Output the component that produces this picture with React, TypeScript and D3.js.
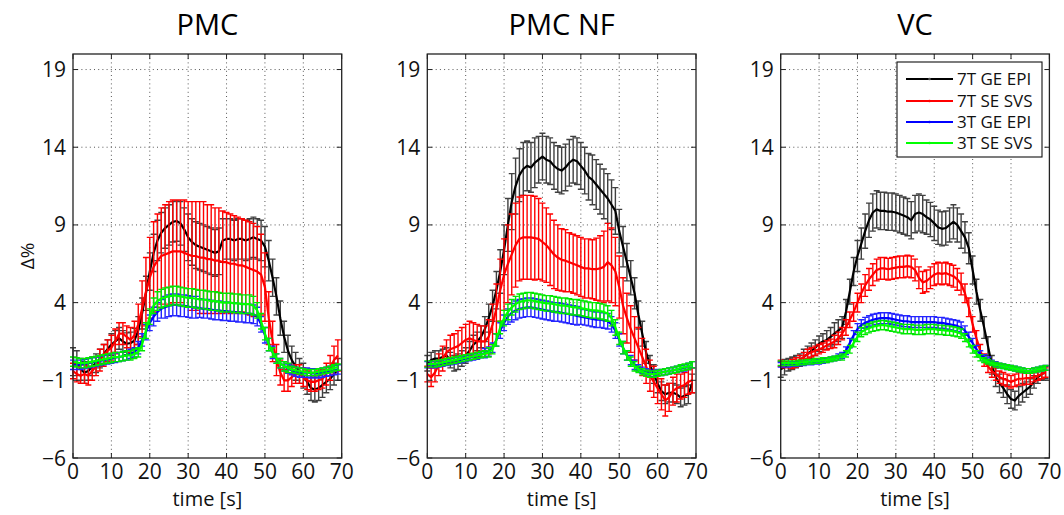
import React from 'react';
import * as d3 from 'd3';

// ---------- data ----------
const TIME = d3.range(0, 70);
const TITLES = ['PMC', 'PMC NF', 'VC'];
const SERIES_NAMES = ['7T GE EPI', '7T SE SVS', '3T GE EPI', '3T SE SVS'];
const SERIES_COLORS = ['#000000', '#ff0000', '#0000ff', '#00ff00'];
const ERR_COLORS = ['#404040', '#ff0000', '#2424ff', '#00e800'];
const DRAW_ORDER = [0, 1, 2, 3];
const Y_TICKS = [-6, -1, 4, 9, 14, 19];
const X_TICKS = [0, 10, 20, 30, 40, 50, 60, 70];

// PMC
const PMC_K = [0.2, 0.1, -0.3, -0.5, -0.4, -0.1, 0.1, 0.4, 0.7, 1.0,
  1.3, 1.5, 1.7, 1.5, 1.35, 1.4, 1.55, 2.2, 3.3, 4.6,
  6.0, 7.2, 8.0, 8.5, 8.8, 9.0, 9.2, 9.25, 9.1, 8.7,
  8.2, 7.9, 7.7, 7.6, 7.5, 7.4, 7.3, 7.2, 7.3, 8.0,
  8.1, 8.1, 8.0, 8.1, 8.1, 8.0, 8.1, 8.2, 8.1, 8.0,
  7.6, 6.7, 5.6, 4.4, 3.0, 1.8, 0.9, 0.3, -0.1, -0.4,
  -0.7, -1.1, -1.5, -1.6, -1.5, -1.3, -1.1, -0.9, -0.6, -0.3];
const PMC_R = [-0.4, -0.6, -0.7, -0.6, -0.7, -0.4, -0.1, 0.3, 0.6, 0.9,
  1.1, 1.5, 2.0, 2.0, 1.8, 1.6, 1.9, 2.6, 3.6, 4.7,
  5.6, 6.3, 6.7, 7.0, 7.1, 7.2, 7.3, 7.3, 7.3, 7.2,
  7.1, 7.0, 7.0, 6.9, 6.9, 6.8, 6.8, 6.7, 6.7, 6.6,
  6.6, 6.5, 6.5, 6.4, 6.4, 6.3, 6.2, 6.1, 6.0, 5.8,
  5.0, 3.0, 1.5, 0.3, -0.5, -1.0, -1.0, -0.8, -0.6, -0.6,
  -0.8, -1.0, -1.1, -1.1, -1.0, -0.9, -0.6, -0.2, 0.3, 0.6];
const PMC_B = [0.0, 0.0, 0.0, 0.05, 0.1, 0.15, 0.2, 0.25, 0.3, 0.35,
  0.4, 0.45, 0.5, 0.55, 0.6, 0.7, 0.8, 1.1, 1.6, 2.1,
  2.7, 3.1, 3.4, 3.6, 3.7, 3.8, 3.85, 3.85, 3.8, 3.8,
  3.75, 3.7, 3.7, 3.65, 3.6, 3.6, 3.55, 3.5, 3.5, 3.45,
  3.45, 3.4, 3.4, 3.35, 3.35, 3.3, 3.3, 3.25, 3.1, 2.6,
  1.9, 1.3, 0.8, 0.4, 0.1, -0.1, -0.25, -0.35, -0.45, -0.5,
  -0.5, -0.5, -0.55, -0.55, -0.55, -0.5, -0.45, -0.4, -0.35, -0.3];
const PMC_G = [0.2, 0.15, 0.1, 0.1, 0.15, 0.2, 0.25, 0.3, 0.35, 0.4,
  0.45, 0.5, 0.5, 0.55, 0.6, 0.6, 0.7, 0.8, 1.3, 2.2,
  3.1, 3.8, 4.1, 4.25, 4.35, 4.4, 4.45, 4.45, 4.4, 4.35,
  4.3, 4.3, 4.25, 4.2, 4.2, 4.15, 4.1, 4.1, 4.05, 4.0,
  4.0, 4.0, 3.95, 3.95, 3.9, 3.9, 3.9, 3.8, 3.5, 2.8,
  2.0, 1.3, 0.8, 0.4, 0.1, -0.1, -0.2, -0.3, -0.35, -0.4,
  -0.45, -0.5, -0.5, -0.5, -0.45, -0.4, -0.35, -0.3, -0.2, -0.15];
const PMC_EK = [0.9, 0.8, 0.7, 0.7, 0.6, 0.6, 0.6, 0.6, 0.6, 0.6,
  0.7, 0.7, 0.7, 0.7, 0.7, 0.7, 0.8, 0.9, 1.0, 1.1,
  1.2, 1.2, 1.3, 1.3, 1.3, 1.3, 1.3, 1.3, 1.4, 1.4,
  1.5, 1.5, 1.5, 1.5, 1.5, 1.5, 1.5, 1.5, 1.5, 1.4,
  1.3, 1.3, 1.3, 1.3, 1.3, 1.3, 1.3, 1.3, 1.3, 1.3,
  1.3, 1.3, 1.2, 1.2, 1.1, 1.0, 1.0, 0.9, 0.9, 0.8,
  0.8, 0.8, 0.8, 0.8, 0.8, 0.8, 0.7, 0.7, 0.7, 0.7];
const PMC_ER = [0.5, 0.5, 0.5, 0.6, 0.6, 0.6, 0.6, 0.7, 0.7, 0.7,
  0.8, 0.8, 0.7, 0.7, 0.7, 0.8, 0.9, 1.3, 1.8, 2.2,
  2.6, 2.9, 3.0, 3.1, 3.2, 3.3, 3.3, 3.3, 3.3, 3.4,
  3.4, 3.5, 3.5, 3.6, 3.6, 3.5, 3.5, 3.4, 3.4, 3.3,
  3.2, 3.2, 3.1, 3.1, 3.0, 3.0, 3.0, 3.0, 2.9, 2.6,
  2.2, 1.7, 1.3, 1.0, 0.8, 0.7, 0.7, 0.6, 0.6, 0.6,
  0.6, 0.6, 0.6, 0.6, 0.6, 0.6, 0.7, 0.8, 0.9, 1.0];
const PMC_EB = [0.3, 0.3, 0.3, 0.3, 0.3, 0.3, 0.3, 0.3, 0.3, 0.3,
  0.3, 0.3, 0.3, 0.3, 0.3, 0.3, 0.3, 0.4, 0.4, 0.5,
  0.5, 0.6, 0.6, 0.6, 0.7, 0.7, 0.7, 0.7, 0.7, 0.7,
  0.7, 0.7, 0.7, 0.6, 0.6, 0.6, 0.6, 0.6, 0.6, 0.6,
  0.6, 0.6, 0.6, 0.6, 0.6, 0.6, 0.6, 0.6, 0.6, 0.5,
  0.5, 0.4, 0.4, 0.3, 0.3, 0.3, 0.3, 0.3, 0.3, 0.3,
  0.3, 0.3, 0.3, 0.3, 0.3, 0.3, 0.3, 0.3, 0.3, 0.3];
const PMC_EG = [0.3, 0.3, 0.3, 0.3, 0.3, 0.3, 0.3, 0.3, 0.3, 0.3,
  0.3, 0.3, 0.3, 0.3, 0.3, 0.3, 0.3, 0.3, 0.4, 0.5,
  0.5, 0.5, 0.6, 0.6, 0.6, 0.6, 0.6, 0.6, 0.6, 0.6,
  0.6, 0.6, 0.6, 0.6, 0.6, 0.6, 0.6, 0.6, 0.6, 0.6,
  0.6, 0.6, 0.6, 0.6, 0.6, 0.6, 0.6, 0.6, 0.5, 0.5,
  0.4, 0.4, 0.3, 0.3, 0.3, 0.3, 0.3, 0.2, 0.2, 0.2,
  0.2, 0.2, 0.2, 0.2, 0.2, 0.2, 0.2, 0.2, 0.2, 0.2];

// PMC NF
const NF_K = [0.1, 0.3, 0.4, 0.4, 0.5, 0.6, 0.3, 0.1, 0.2, 0.4,
  0.6, 0.9, 1.3, 1.5, 1.8, 2.3, 3.0, 3.8, 4.8, 6.0,
  7.4, 9.0, 10.5, 11.5, 12.2, 12.6, 12.8, 12.7, 13.0, 13.2,
  13.4, 13.2, 13.1, 12.8, 12.6, 12.5, 12.7, 13.0, 13.2, 13.1,
  12.8, 12.5, 12.1, 11.9, 11.6, 11.3, 11.0, 10.7, 10.3, 9.9,
  8.6, 7.6, 6.6, 5.6, 4.6, 3.2, 2.0, 0.8, 0.0, -0.6,
  -1.2, -1.7, -1.9, -1.8, -1.8, -1.9, -2.1, -2.0, -1.9, -1.2];
const NF_R = [-0.6, -0.8, -0.5, 0.0, 0.4, 0.8, 1.0, 1.1, 1.2, 1.4,
  1.6, 1.7, 1.6, 1.5, 1.5, 1.5, 1.8, 2.6, 3.6, 4.8,
  5.8, 6.5, 7.1, 7.7, 8.1, 8.2, 8.2, 8.2, 8.15, 8.1,
  7.9, 7.7, 7.4, 7.1, 6.9, 6.75, 6.7, 6.6, 6.5, 6.4,
  6.3, 6.2, 6.2, 6.15, 6.15, 6.2, 6.3, 6.6, 6.4, 6.0,
  5.0, 3.8, 3.0, 2.3, 1.7, 1.1, 0.5, -0.1, -0.7, -1.1,
  -1.5, -1.9, -2.3, -2.1, -1.7, -1.5, -1.4, -1.3, -1.1, -1.0];
const NF_B = [0.0, 0.0, 0.0, 0.05, 0.1, 0.15, 0.2, 0.25, 0.3, 0.35,
  0.4, 0.45, 0.5, 0.55, 0.65, 0.75, 0.85, 1.1, 1.6, 2.2,
  2.7, 3.1, 3.35, 3.5, 3.6, 3.65, 3.7, 3.7, 3.65, 3.6,
  3.55, 3.5, 3.45, 3.4, 3.4, 3.35, 3.3, 3.25, 3.2, 3.15,
  3.1, 3.05, 3.0, 2.95, 2.9, 2.9, 2.85, 2.8, 2.6, 2.2,
  1.6, 1.1, 0.6, 0.3, 0.0, -0.2, -0.35, -0.45, -0.55, -0.55,
  -0.5, -0.5, -0.45, -0.4, -0.35, -0.3, -0.25, -0.2, -0.1, 0.0];
const NF_G = [0.05, 0.05, 0.05, 0.1, 0.15, 0.2, 0.25, 0.3, 0.35, 0.4,
  0.45, 0.5, 0.55, 0.6, 0.65, 0.7, 0.8, 1.0, 1.6, 2.4,
  3.0, 3.4, 3.7, 3.9, 4.05, 4.1, 4.15, 4.15, 4.1, 4.05,
  4.0, 3.95, 3.95, 3.9, 3.85, 3.8, 3.8, 3.75, 3.7, 3.7,
  3.65, 3.6, 3.55, 3.5, 3.5, 3.45, 3.4, 3.3, 3.0, 2.4,
  1.7, 1.1, 0.6, 0.2, -0.1, -0.3, -0.45, -0.55, -0.6, -0.6,
  -0.55, -0.5, -0.45, -0.4, -0.35, -0.3, -0.2, -0.15, -0.1, 0.0];
const NF_EK = [0.5, 0.5, 0.5, 0.5, 0.5, 0.5, 0.5, 0.5, 0.5, 0.5,
  0.5, 0.6, 0.6, 0.6, 0.7, 0.8, 0.9, 1.0, 1.2, 1.4,
  1.6, 1.7, 1.8, 1.8, 1.7, 1.7, 1.6, 1.6, 1.6, 1.5,
  1.5, 1.5, 1.5, 1.5, 1.5, 1.5, 1.5, 1.5, 1.5, 1.5,
  1.5, 1.5, 1.5, 1.6, 1.6, 1.6, 1.6, 1.6, 1.6, 1.5,
  1.4, 1.3, 1.2, 1.1, 1.0, 0.9, 0.8, 0.7, 0.6, 0.6,
  0.6, 0.6, 0.6, 0.6, 0.6, 0.6, 0.6, 0.6, 0.6, 0.6];
const NF_ER = [0.5, 0.6, 0.6, 0.7, 0.8, 0.8, 0.9, 0.9, 1.0, 1.0,
  1.0, 1.1, 1.1, 1.1, 1.0, 1.0, 1.1, 1.3, 1.6, 2.0,
  2.3, 2.5, 2.6, 2.7, 2.7, 2.7, 2.7, 2.7, 2.7, 2.6,
  2.5, 2.4, 2.3, 2.2, 2.1, 2.0, 2.0, 1.9, 1.9, 1.9,
  1.9, 1.9, 1.9, 1.9, 2.0, 2.1, 2.3, 2.5, 2.4, 2.2,
  2.0, 1.8, 1.6, 1.5, 1.4, 1.3, 1.2, 1.1, 1.0, 1.0,
  1.0, 1.0, 1.0, 0.9, 0.9, 0.9, 0.8, 0.8, 0.8, 0.8];
const NF_EB = [0.2, 0.2, 0.2, 0.2, 0.2, 0.2, 0.2, 0.2, 0.2, 0.2,
  0.2, 0.2, 0.2, 0.2, 0.2, 0.3, 0.3, 0.3, 0.4, 0.5,
  0.5, 0.5, 0.6, 0.6, 0.6, 0.6, 0.6, 0.6, 0.6, 0.6,
  0.6, 0.6, 0.6, 0.6, 0.6, 0.6, 0.6, 0.6, 0.6, 0.6,
  0.5, 0.5, 0.5, 0.5, 0.5, 0.5, 0.5, 0.5, 0.5, 0.5,
  0.4, 0.4, 0.3, 0.3, 0.3, 0.2, 0.2, 0.2, 0.2, 0.2,
  0.2, 0.2, 0.2, 0.2, 0.2, 0.2, 0.2, 0.2, 0.2, 0.2];
const NF_EG = [0.2, 0.2, 0.2, 0.2, 0.2, 0.2, 0.2, 0.2, 0.2, 0.2,
  0.2, 0.2, 0.2, 0.2, 0.2, 0.2, 0.3, 0.3, 0.4, 0.4,
  0.5, 0.5, 0.5, 0.5, 0.5, 0.5, 0.5, 0.5, 0.5, 0.5,
  0.5, 0.5, 0.5, 0.5, 0.5, 0.5, 0.5, 0.5, 0.5, 0.5,
  0.5, 0.5, 0.5, 0.5, 0.5, 0.5, 0.5, 0.5, 0.5, 0.5,
  0.4, 0.4, 0.3, 0.3, 0.3, 0.2, 0.2, 0.2, 0.2, 0.2,
  0.2, 0.2, 0.2, 0.2, 0.2, 0.2, 0.2, 0.2, 0.2, 0.2];

// VC
const VC_K = [-0.3, -0.15, 0.0, 0.1, 0.2, 0.3, 0.5, 0.7, 0.9, 1.1,
  1.35, 1.5, 1.6, 1.8, 2.0, 2.2, 2.4, 3.4, 4.7, 6.0,
  7.0, 7.8, 8.6, 9.3, 9.8, 10.0, 9.9, 9.9, 9.85, 9.85,
  9.8, 9.7, 9.6, 9.5, 9.3, 9.7, 9.8, 9.7, 9.5, 9.35,
  9.1, 8.85, 8.75, 8.8, 9.0, 9.2, 9.0, 8.6, 8.2, 7.5,
  6.1, 4.7, 3.5, 2.4, 1.2, 0.0, -0.8, -1.2, -1.5, -1.9,
  -2.2, -2.3, -2.0, -1.8, -1.6, -1.4, -1.1, -0.8, -0.6, -0.5];
const VC_R = [0.1, 0.0, 0.0, 0.05, 0.15, 0.3, 0.5, 0.7, 0.8, 0.9,
  1.0, 1.1, 1.25, 1.35, 1.5, 1.7, 2.0, 2.4, 2.9, 3.4,
  4.0, 4.6, 5.1, 5.5, 5.8, 6.1, 6.2, 6.2, 6.15, 6.2,
  6.25, 6.3, 6.3, 6.35, 6.3, 6.1, 5.6, 5.3, 5.4, 5.6,
  5.8, 5.9, 5.85, 5.9, 5.8, 5.7, 5.5, 5.2, 4.6, 3.7,
  2.6, 1.7, 0.9, 0.3, -0.1, -0.4, -0.6, -0.8, -0.9, -1.0,
  -1.1, -1.0, -0.9, -0.9, -0.85, -0.85, -0.8, -0.7, -0.6, -0.5];
const VC_B = [0.0, 0.0, 0.0, 0.05, 0.05, 0.1, 0.1, 0.15, 0.15, 0.2,
  0.2, 0.25, 0.3, 0.35, 0.4, 0.5, 0.6, 0.9, 1.4, 1.9,
  2.3, 2.55, 2.7, 2.8, 2.9, 2.95, 3.0, 3.0, 3.0, 2.95,
  2.9, 2.85, 2.8, 2.8, 2.75, 2.75, 2.75, 2.75, 2.75, 2.75,
  2.75, 2.7, 2.7, 2.65, 2.6, 2.55, 2.5, 2.4, 2.2, 1.8,
  1.4, 1.0, 0.7, 0.45, 0.3, 0.15, 0.05, -0.05, -0.1, -0.15,
  -0.2, -0.25, -0.3, -0.35, -0.4, -0.4, -0.35, -0.3, -0.25, -0.2];
const VC_G = [0.1, 0.1, 0.1, 0.1, 0.1, 0.15, 0.15, 0.2, 0.2, 0.25,
  0.25, 0.3, 0.3, 0.35, 0.4, 0.45, 0.5, 0.7, 1.0, 1.4,
  1.8, 2.1, 2.25, 2.35, 2.45, 2.5, 2.55, 2.55, 2.5, 2.45,
  2.4, 2.35, 2.3, 2.3, 2.3, 2.25, 2.25, 2.25, 2.3, 2.3,
  2.3, 2.25, 2.25, 2.2, 2.2, 2.15, 2.1, 2.0, 1.75, 1.4,
  1.0, 0.7, 0.45, 0.3, 0.2, 0.1, 0.0, -0.05, -0.1, -0.15,
  -0.2, -0.25, -0.3, -0.35, -0.4, -0.4, -0.35, -0.3, -0.25, -0.2];
const VC_EK = [0.5, 0.5, 0.4, 0.4, 0.4, 0.4, 0.5, 0.5, 0.5, 0.5,
  0.5, 0.5, 0.6, 0.6, 0.7, 0.7, 0.7, 0.8, 0.8, 0.9,
  1.0, 1.0, 1.1, 1.1, 1.2, 1.2, 1.2, 1.2, 1.2, 1.2,
  1.2, 1.2, 1.2, 1.2, 1.2, 1.2, 1.2, 1.2, 1.1, 1.1,
  1.1, 1.1, 1.1, 1.1, 1.1, 1.1, 1.1, 1.1, 1.0, 1.0,
  0.9, 0.8, 0.7, 0.7, 0.6, 0.6, 0.6, 0.6, 0.6, 0.6,
  0.6, 0.6, 0.6, 0.6, 0.5, 0.5, 0.4, 0.4, 0.4, 0.4];
const VC_ER = [0.2, 0.2, 0.2, 0.3, 0.3, 0.3, 0.3, 0.3, 0.3, 0.3,
  0.3, 0.3, 0.3, 0.3, 0.4, 0.4, 0.4, 0.5, 0.5, 0.6,
  0.6, 0.6, 0.7, 0.7, 0.7, 0.7, 0.7, 0.7, 0.7, 0.7,
  0.7, 0.7, 0.7, 0.7, 0.7, 0.7, 0.7, 0.7, 0.7, 0.7,
  0.7, 0.7, 0.7, 0.7, 0.7, 0.7, 0.7, 0.7, 0.6, 0.6,
  0.5, 0.5, 0.4, 0.4, 0.4, 0.4, 0.4, 0.4, 0.4, 0.4,
  0.4, 0.4, 0.4, 0.4, 0.4, 0.4, 0.3, 0.3, 0.3, 0.3];
const VC_EB = [0.15, 0.15, 0.15, 0.15, 0.15, 0.15, 0.15, 0.15, 0.15, 0.15,
  0.15, 0.15, 0.15, 0.15, 0.15, 0.2, 0.2, 0.25, 0.3, 0.3,
  0.35, 0.35, 0.35, 0.35, 0.35, 0.35, 0.35, 0.35, 0.35, 0.35,
  0.35, 0.35, 0.35, 0.35, 0.35, 0.35, 0.35, 0.35, 0.35, 0.35,
  0.35, 0.35, 0.35, 0.35, 0.35, 0.35, 0.35, 0.35, 0.3, 0.3,
  0.3, 0.25, 0.2, 0.2, 0.2, 0.15, 0.15, 0.15, 0.15, 0.15,
  0.15, 0.15, 0.15, 0.15, 0.15, 0.15, 0.15, 0.15, 0.15, 0.15];
const VC_EG = [0.15, 0.15, 0.15, 0.15, 0.15, 0.15, 0.15, 0.15, 0.15, 0.15,
  0.15, 0.15, 0.15, 0.15, 0.15, 0.15, 0.2, 0.2, 0.25, 0.25,
  0.3, 0.3, 0.3, 0.3, 0.3, 0.3, 0.3, 0.3, 0.3, 0.3,
  0.3, 0.3, 0.3, 0.3, 0.3, 0.3, 0.3, 0.3, 0.3, 0.3,
  0.3, 0.3, 0.3, 0.3, 0.3, 0.3, 0.3, 0.3, 0.25, 0.25,
  0.25, 0.2, 0.2, 0.15, 0.15, 0.15, 0.15, 0.15, 0.15, 0.15,
  0.15, 0.15, 0.15, 0.15, 0.15, 0.15, 0.15, 0.15, 0.15, 0.15];

const PANEL_MEANS = [
  [PMC_K, PMC_R, PMC_B, PMC_G],
  [NF_K, NF_R, NF_B, NF_G],
  [VC_K, VC_R, VC_B, VC_G],
];
const PANEL_ERRS = [
  [PMC_EK, PMC_ER, PMC_EB, PMC_EG],
  [NF_EK, NF_ER, NF_EB, NF_EG],
  [VC_EK, VC_ER, VC_EB, VC_EG],
];

// ---------- layout ----------
const W = 1064;
const H = 515;
const LEFTS = [73, 427.3, 780.7];
const PW = 268.7;
const TOP = 54;
const BOTTOM = 458;
const FONT = '"Open Sans", "DejaVu Sans", sans-serif';
const TICK = 5;
const CAP = 3;

const fmt = (v: number) => (v < 0 ? '\u2212' + Math.abs(v) : String(v));

function Panel({ idx }: { idx: number }) {
  const left = LEFTS[idx];
  const x = d3.scaleLinear().domain([0, 70]).range([left, left + PW]);
  const y = d3.scaleLinear().domain([-6, 20]).range([BOTTOM, TOP]);
  const means = PANEL_MEANS[idx];
  const errs = PANEL_ERRS[idx];
  const line = d3.line<number>().x((_, i) => x(TIME[i])).y((d) => y(d));

  const errPath = (m: number[], e: number[]) => {
    const p = d3.path();
    m.forEach((v, i) => {
      const cx = x(TIME[i]);
      const y1 = y(v + e[i]);
      const y0 = y(v - e[i]);
      p.moveTo(cx, y0);
      p.lineTo(cx, y1);
      p.moveTo(cx - CAP, y1);
      p.lineTo(cx + CAP, y1);
      p.moveTo(cx - CAP, y0);
      p.lineTo(cx + CAP, y0);
    });
    return p.toString();
  };

  const cx = left + PW / 2;
  return (
    <g>
      <text x={cx} y={35} textAnchor="middle" fontSize={29} fontFamily={FONT} fill="#000">
        {TITLES[idx]}
      </text>
      <rect x={left} y={TOP} width={PW} height={BOTTOM - TOP} fill="#fff" />
      {/* grid */}
      <g stroke="#444" strokeWidth={0.9} strokeDasharray="1,3.2">
        {X_TICKS.slice(1, -1).map((t) => (
          <line key={'gx' + t} x1={x(t)} x2={x(t)} y1={TOP} y2={BOTTOM} />
        ))}
        {Y_TICKS.slice(1).map((t) => (
          <line key={'gy' + t} x1={left} x2={left + PW} y1={y(t)} y2={y(t)} />
        ))}
      </g>
      {/* series */}
      {DRAW_ORDER.map((s) => (
        <g key={'s' + s}>
          <path d={errPath(means[s], errs[s])} stroke={ERR_COLORS[s]} strokeWidth={1.4} fill="none" />
          <path d={line(means[s]) || ''} stroke={SERIES_COLORS[s]} strokeWidth={2.2} fill="none" strokeLinejoin="round" />
        </g>
      ))}
      {/* ticks */}
      <g stroke="#222" strokeWidth={1}>
        {X_TICKS.map((t) => (
          <g key={'tx' + t}>
            <line x1={x(t)} x2={x(t)} y1={BOTTOM} y2={BOTTOM - TICK} />
            <line x1={x(t)} x2={x(t)} y1={TOP} y2={TOP + TICK} />
          </g>
        ))}
        {Y_TICKS.map((t) => (
          <g key={'ty' + t}>
            <line x1={left} x2={left + TICK} y1={y(t)} y2={y(t)} />
            <line x1={left + PW} x2={left + PW - TICK} y1={y(t)} y2={y(t)} />
          </g>
        ))}
      </g>
      <rect x={left} y={TOP} width={PW} height={BOTTOM - TOP} fill="none" stroke="#222" strokeWidth={1.3} />
      {/* tick labels */}
      <g fontFamily={FONT} fontSize={21} fill="#111">
        {X_TICKS.map((t) => (
          <text key={'lx' + t} x={x(t)} y={479} textAnchor="middle">
            {fmt(t)}
          </text>
        ))}
        {Y_TICKS.map((t) => (
          <text key={'ly' + t} x={left - 7} y={y(t) + 7.5} textAnchor="end">
            {fmt(t)}
          </text>
        ))}
      </g>
      <text x={cx} y={506} textAnchor="middle" fontFamily={FONT} fontSize={20} fill="#111">
        time [s]
      </text>
      {idx === 0 && (
        <text transform="translate(34,256) rotate(-90)" textAnchor="middle" fontFamily={FONT} fontSize={19} fill="#111">
          Δ%
        </text>
      )}
      {idx === 2 && <Legend />}
    </g>
  );
}

function Legend() {
  const lx = 897;
  const ly = 62;
  const rows = [79, 101, 122, 143];
  return (
    <g>
      <rect x={lx} y={ly} width={145} height={95} fill="#fff" stroke="#111" strokeWidth={1.1} />
      {SERIES_NAMES.map((n, i) => (
        <g key={n}>
          <line x1={906} x2={953} y1={rows[i]} y2={rows[i]} stroke={SERIES_COLORS[i]} strokeWidth={2} />
          <circle cx={929.5} cy={rows[i]} r={1.3} fill={SERIES_COLORS[i] === '#000000' ? '#555' : SERIES_COLORS[i]} />
          <text x={957} y={rows[i] + 6} fontFamily={FONT} fontSize={17} fill="#111">
            {n}
          </text>
        </g>
      ))}
    </g>
  );
}

export default function App() {
  return (
    <svg
      width={W}
      height={H}
      viewBox={`0 0 ${W} ${H}`}
      style={{ position: 'absolute', left: 0, top: 0, background: '#fff' }}
    >
      <rect x={0} y={0} width={W} height={H} fill="#fff" />
      {[0, 1, 2].map((i) => (
        <Panel key={i} idx={i} />
      ))}
    </svg>
  );
}
